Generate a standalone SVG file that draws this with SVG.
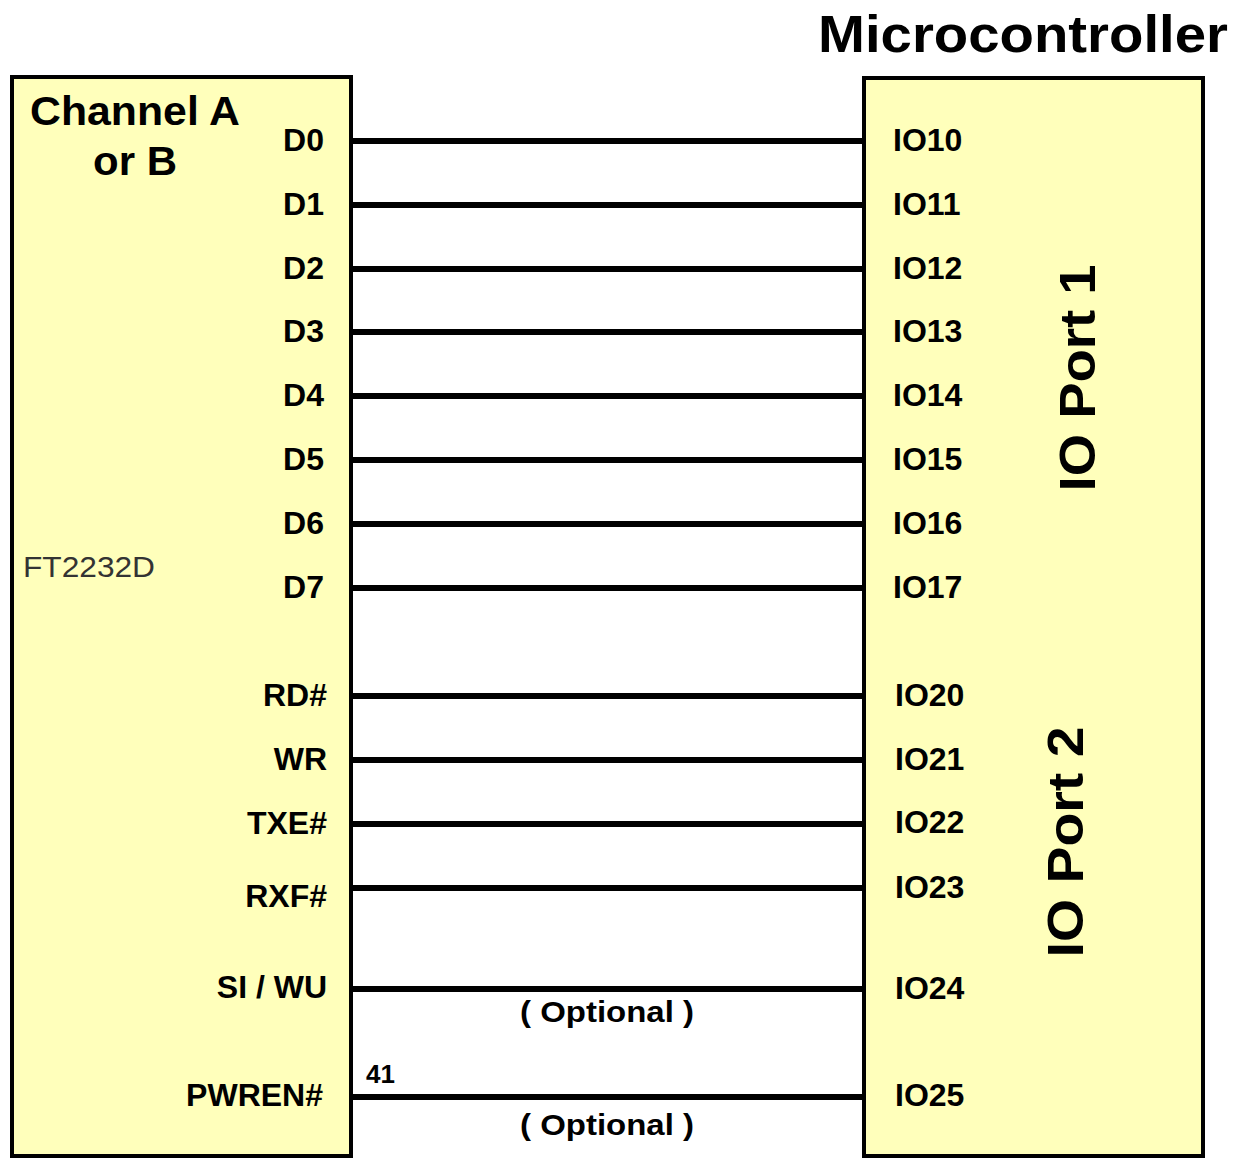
<svg xmlns="http://www.w3.org/2000/svg" width="1239" height="1158" viewBox="0 0 1239 1158">
<style>
.box{fill:#FFFFBB;stroke:#000;stroke-width:4}
.t{font-family:"Liberation Sans",Arial,sans-serif;font-weight:bold;fill:#000}
.pin{font-size:32px}
.l{text-anchor:end}
.w{stroke:#000;stroke-width:6;fill:none}
</style>
<rect width="1239" height="1158" fill="#fff"/>
<g id="ft2232d">
<rect class="box" x="12" y="77" width="339" height="1079"/>
<text class="t" x="30" y="125" font-size="40" textLength="210" lengthAdjust="spacingAndGlyphs">Channel A</text>
<text class="t" x="93" y="175" font-size="40" textLength="84" lengthAdjust="spacingAndGlyphs">or B</text>
<text x="23" y="577" font-family="Liberation Sans,Arial,sans-serif" font-size="30" fill="#333" textLength="132" lengthAdjust="spacingAndGlyphs">FT2232D</text>
<g class="t pin l">
<text x="324" y="151">D0</text>
<text x="324" y="215">D1</text>
<text x="324" y="279">D2</text>
<text x="324" y="342">D3</text>
<text x="324" y="406">D4</text>
<text x="324" y="470">D5</text>
<text x="324" y="534">D6</text>
<text x="324" y="598">D7</text>
<text x="327" y="706">RD#</text>
<text x="327" y="770">WR</text>
<text x="327" y="834">TXE#</text>
<text x="327" y="907">RXF#</text>
<text x="327" y="998">SI / WU</text>
<text x="323" y="1106">PWREN#</text>
</g>
</g>
<g id="microcontroller">
<text class="t" x="818" y="52" font-size="52" textLength="410" lengthAdjust="spacingAndGlyphs">Microcontroller</text>
<rect class="box" x="864" y="78" width="339" height="1078"/>
<g class="t pin">
<text x="893" y="151">IO10</text>
<text x="893" y="215">IO11</text>
<text x="893" y="279">IO12</text>
<text x="893" y="342">IO13</text>
<text x="893" y="406">IO14</text>
<text x="893" y="470">IO15</text>
<text x="893" y="534">IO16</text>
<text x="893" y="598">IO17</text>
<text x="895" y="706">IO20</text>
<text x="895" y="770">IO21</text>
<text x="895" y="833">IO22</text>
<text x="895" y="898">IO23</text>
<text x="895" y="999">IO24</text>
<text x="895" y="1106">IO25</text>
</g>
<text class="t" font-size="50" text-anchor="middle" textLength="227" lengthAdjust="spacingAndGlyphs" transform="translate(1095,378) rotate(-90)">IO Port 1</text>
<text class="t" font-size="50" text-anchor="middle" textLength="231" lengthAdjust="spacingAndGlyphs" transform="translate(1083,842) rotate(-90)">IO Port 2</text>
</g>
<g id="connectors">
<path class="w" d="M349 141H866M349 205H866M349 269H866M349 332H866M349 396H866M349 460H866M349 524H866M349 588H866M349 696H866M349 760H866M349 824H866M349 888H866M349 989H866M349 1097H866"/>
<text class="t" x="520" y="1022" font-size="30" textLength="174" lengthAdjust="spacingAndGlyphs">( Optional )</text>
<text class="t" x="366" y="1083" font-size="26">41</text>
<text class="t" x="520" y="1135" font-size="30" textLength="174" lengthAdjust="spacingAndGlyphs">( Optional )</text>
</g>
</svg>
